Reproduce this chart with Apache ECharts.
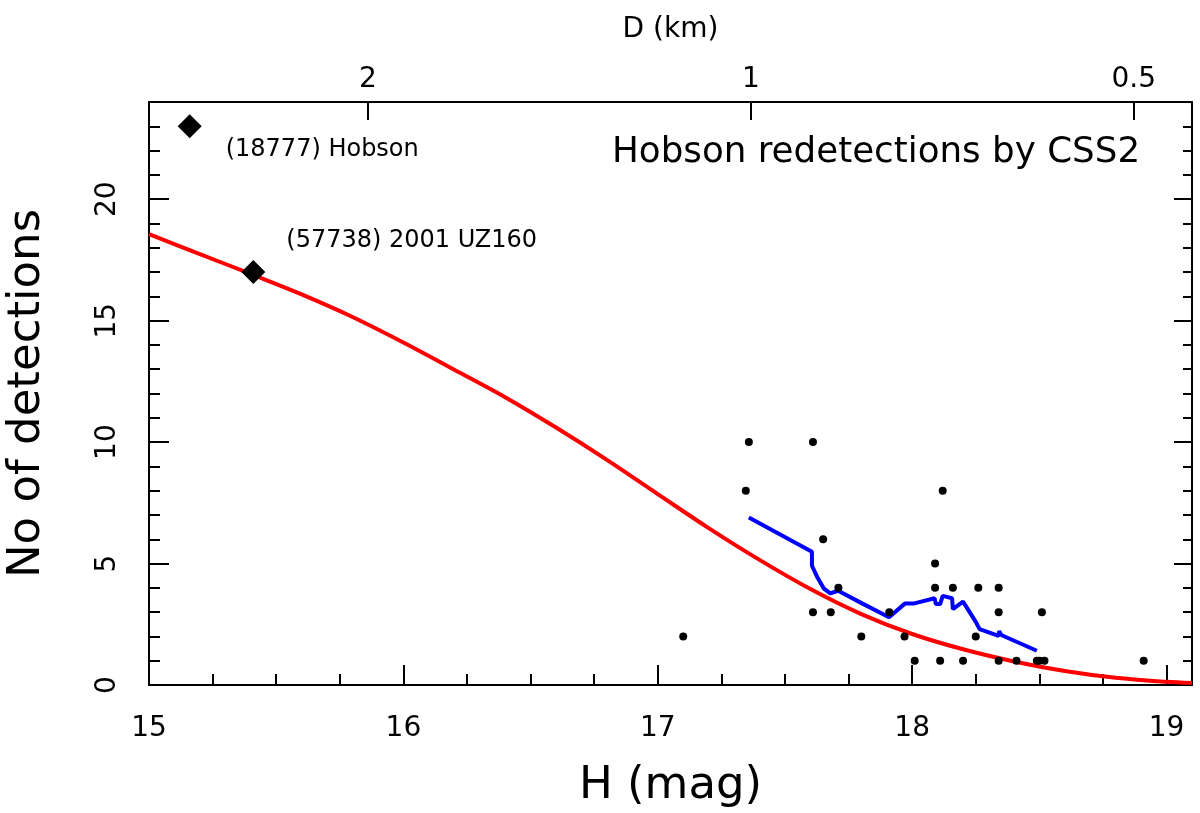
<!DOCTYPE html>
<html>
<head>
<meta charset="utf-8">
<script src="https://cdn.jsdelivr.net/npm/echarts@6/dist/echarts.min.js"></script>
<style>
html,body{margin:0;padding:0;background:#fff;}
#chart{width:1200px;height:813px;}
</style>
</head>
<body>
<div id="chart"></div>
<script>
// ---- data ----
var xTicks = [15, 16, 17, 18, 19];
var yTicks = [0, 5, 10, 15, 20];
var dTicks = [2, 1, 0.5];           // top axis: diameter (km)
var H1km = 17.366;                  // H for D = 1 km (pV = 0.2)

var detectH = [17.10, 17.346, 17.358, 17.61, 17.65, 17.71, 17.61, 17.68, 17.80, 17.91, 17.97, 18.01,
               18.09, 18.09, 18.11, 18.12, 18.16, 18.20, 18.25, 18.26, 18.34, 18.34, 18.34, 18.41,
               18.49, 18.50, 18.52, 18.51, 18.91];
var detectN = [2, 8, 10, 10, 6, 4, 3, 3, 2, 3, 2, 1,
               5, 4, 1, 8, 4, 1, 2, 4, 4, 3, 1, 1,
               1, 1, 1, 3, 1];

var meanH = [17.358, 17.606, 17.606, 17.626, 17.652, 17.678, 17.709, 17.803, 17.909, 17.971, 18.009,
             18.088, 18.093, 18.110, 18.120, 18.157, 18.160, 18.200, 18.250, 18.265, 18.340, 18.342,
             18.350, 18.410, 18.490];
var meanN = [6.90, 5.49, 4.91, 4.46, 3.98, 3.77, 3.88, 3.36, 2.79, 3.35, 3.36,
             3.57, 3.33, 3.33, 3.67, 3.57, 3.12, 3.43, 2.60, 2.30, 2.02, 2.22,
             2.06, 1.78, 1.41];

var modelH = [15.0, 15.2, 15.4, 15.6, 15.8, 16.0, 16.2, 16.4, 16.6, 16.8, 17.0, 17.2,
              17.4, 17.6, 17.8, 18.0, 18.2, 18.4, 18.6, 18.8, 19.0, 19.1];
var modelN = [18.56, 17.74, 16.92, 16.08, 15.15, 14.10, 12.98, 11.85, 10.60, 9.27, 7.86, 6.46,
              5.15, 3.95, 2.92, 2.10, 1.47, 0.97, 0.58, 0.30, 0.13, 0.08];

var namedH = [15.16, 15.41];
var namedN = [23, 17];
var namedLabels = ['(18777) Hobson', '(57738) 2001 UZ160'];

var titleText = 'Hobson redetections by CSS2';

// ---- build ----
function zip(a, b) { return a.map(function (v, i) { return [v, b[i]]; }); }
function hOfD(d) { return H1km - 5 * Math.log10(d); }
var dTicksH = dTicks.map(hOfD);

var FONT = 'DejaVu Sans';
var xMin = 15, xMax = 19.1, yMin = 0, yMax = 24;

var chart = echarts.init(document.getElementById('chart'), null, {renderer: 'canvas'});
var axisLineStyle = {color: '#000', width: 2};

var option = {
  backgroundColor: '#fff',
  animation: false,
  title: {
    text: titleText,
    left: 612, top: 135, padding: 0,
    textStyle: {fontFamily: FONT, fontSize: 35.7, fontWeight: 'normal', color: '#000'}
  },
  grid: {left: 149, right: 8, top: 102, bottom: 128, containLabel: false, outerBoundsMode: 'none'},
  xAxis: [
    { // main bottom axis
      type: 'value', position: 'bottom', min: xMin, max: xMax, interval: 1,
      name: 'H (mag)', nameLocation: 'middle', nameGap: 79,
      nameTextStyle: {fontFamily: FONT, fontSize: 45, color: '#000'},
      axisLine: {show: true, onZero: false, lineStyle: axisLineStyle},
      axisTick: {show: true, inside: true, length: 20, lineStyle: {color: '#000', width: 2}},
      axisLabel: {show: true, margin: 30, showMaxLabel: false, fontFamily: FONT, fontSize: 28, color: '#000',
                  formatter: function (v) { return xTicks.indexOf(v) >= 0 ? String(v) : ''; }},
      splitLine: {show: false}
    },
    { // minor ticks bottom
      type: 'value', position: 'bottom', min: xMin, max: xMax, interval: 0.25,
      axisLine: {show: false, onZero: false},
      axisTick: {show: true, inside: true, length: 11, lineStyle: {color: '#000', width: 2}},
      axisLabel: {show: false}, splitLine: {show: false}
    },
    { // top axis: diameter
      type: 'value', position: 'top', min: xMin, max: xMax,
      name: 'D (km)', nameLocation: 'middle', nameGap: 58,
      nameTextStyle: {fontFamily: FONT, fontSize: 28, color: '#000'},
      axisLine: {show: true, onZero: false, lineStyle: axisLineStyle},
      axisTick: {show: true, inside: true, length: 18, customValues: dTicksH, lineStyle: {color: '#000', width: 2}},
      axisLabel: {show: true, margin: 8, customValues: dTicksH, fontFamily: FONT, fontSize: 28, color: '#000',
                  formatter: function (v) {
                    for (var i = 0; i < dTicksH.length; i++) {
                      if (Math.abs(dTicksH[i] - v) < 1e-6) return String(dTicks[i]);
                    }
                    return '';
                  }},
      splitLine: {show: false}
    }
  ],
  yAxis: [
    { // main left axis
      type: 'value', position: 'left', min: yMin, max: yMax, interval: 5,
      name: 'No of detections', nameLocation: 'middle', nameGap: 99, nameRotate: 90,
      nameTextStyle: {fontFamily: FONT, fontSize: 45, color: '#000'},
      axisLine: {show: true, onZero: false, lineStyle: axisLineStyle},
      axisTick: {show: true, inside: true, length: 20, lineStyle: {color: '#000', width: 2}},
      axisLabel: {show: true, rotate: 90, margin: 27, showMaxLabel: false, fontFamily: FONT, fontSize: 28, color: '#000',
                  formatter: function (v) { return yTicks.indexOf(v) >= 0 ? String(v) : ''; }},
      splitLine: {show: false}
    },
    { // minor left ticks
      type: 'value', position: 'left', min: yMin, max: yMax, interval: 1,
      axisLine: {show: false, onZero: false},
      axisTick: {show: true, inside: true, length: 11, lineStyle: {color: '#000', width: 2}},
      axisLabel: {show: false}, splitLine: {show: false}
    },
    { // right axis major
      type: 'value', position: 'right', min: yMin, max: yMax, interval: 5,
      axisLine: {show: true, onZero: false, lineStyle: axisLineStyle},
      axisTick: {show: true, inside: true, length: 18, lineStyle: {color: '#000', width: 2}},
      axisLabel: {show: false}, splitLine: {show: false}
    },
    { // right axis minor
      type: 'value', position: 'right', min: yMin, max: yMax, interval: 1,
      axisLine: {show: false, onZero: false},
      axisTick: {show: true, inside: true, length: 9, lineStyle: {color: '#000', width: 2}},
      axisLabel: {show: false}, splitLine: {show: false}
    }
  ],
  series: [
    {
      name: 'model', type: 'line', xAxisIndex: 0, yAxisIndex: 0,
      data: zip(modelH, modelN), smooth: 0.35, showSymbol: false, symbol: 'none',
      lineStyle: {color: '#ff0000', width: 4}, z: 3, clip: true
    },
    {
      name: 'running mean', type: 'line', xAxisIndex: 0, yAxisIndex: 0,
      data: zip(meanH, meanN), smooth: false, showSymbol: false, symbol: 'none',
      lineStyle: {color: '#0000ff', width: 4}, z: 2
    },
    {
      name: 'detections', type: 'scatter', xAxisIndex: 0, yAxisIndex: 0,
      data: zip(detectH, detectN), symbol: 'circle', symbolSize: 8,
      itemStyle: {color: '#000', opacity: 1}, z: 4
    },
    {
      name: 'named', type: 'scatter', xAxisIndex: 0, yAxisIndex: 0,
      data: namedH.map(function (h, i) {
        return {
          value: [h, namedN[i]],
          label: {
            show: true, position: 'right', distance: 0,
            offset: i === 0 ? [24, 23] : [21, -31],
            formatter: namedLabels[i],
            fontFamily: FONT, fontSize: 24, color: '#000', opacity: 1
          }
        };
      }),
      symbol: 'diamond', symbolSize: 24,
      itemStyle: {color: '#000', opacity: 1}, z: 5
    }
  ]
};
chart.setOption(option);
</script>
</body>
</html>
